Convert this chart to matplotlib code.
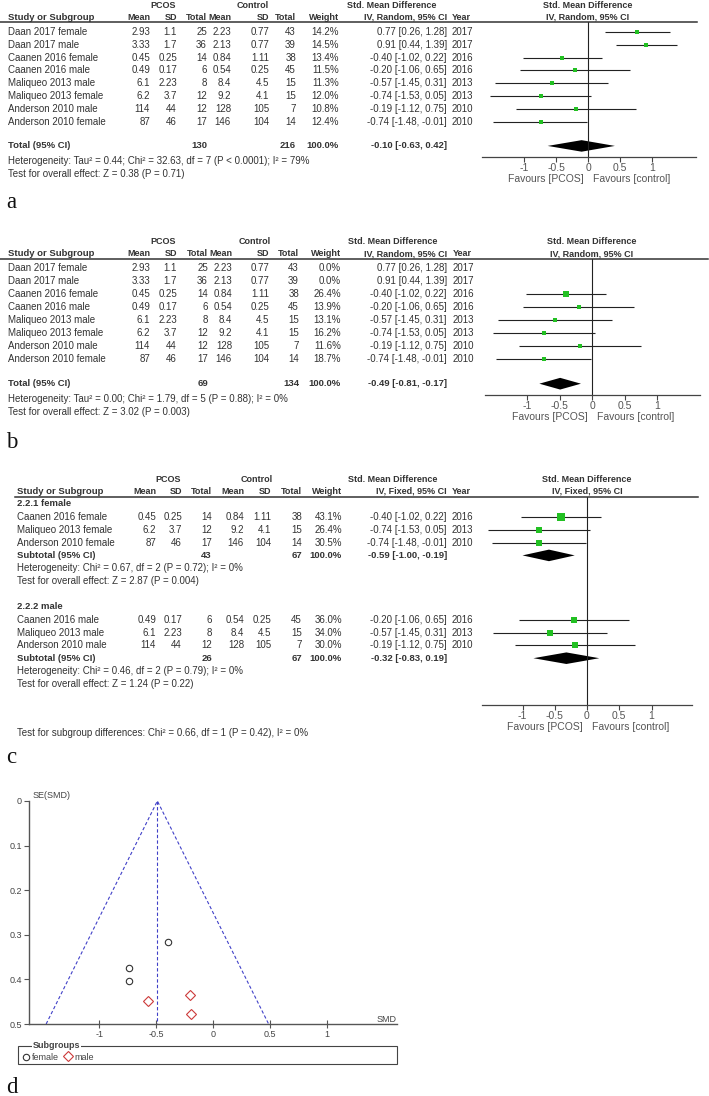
import numpy as np
import matplotlib.pyplot as plt
from matplotlib.lines import Line2D
from matplotlib.patches import Rectangle

plt.rcParams['font.family'] = ['Liberation Sans', 'DejaVu Sans']
plt.rcParams['axes.unicode_minus'] = False

# study level data
study = ['Daan 2017 female', 'Daan 2017 male', 'Caanen 2016 female', 'Caanen 2016 male',
         'Maliqueo 2013 male', 'Maliqueo 2013 female', 'Anderson 2010 male', 'Anderson 2010 female']
pcos_mean = [2.93, 3.33, 0.45, 0.49, 6.1, 6.2, 114, 87]
pcos_sd = [1.1, 1.7, 0.25, 0.17, 2.23, 3.7, 44, 46]
pcos_n = [25, 36, 14, 6, 8, 12, 12, 17]
ctrl_mean = [2.23, 2.13, 0.84, 0.54, 8.4, 9.2, 128, 146]
ctrl_sd = [0.77, 0.77, 1.11, 0.25, 4.5, 4.1, 105, 104]
ctrl_n = [43, 39, 38, 45, 15, 15, 7, 14]
smd = [0.77, 0.91, -0.40, -0.20, -0.57, -0.74, -0.19, -0.74]
ci_lo = [0.26, 0.44, -1.02, -1.06, -1.45, -1.53, -1.12, -1.48]
ci_hi = [1.28, 1.39, 0.22, 0.65, 0.31, 0.05, 0.75, -0.01]
year = [2017, 2017, 2016, 2016, 2013, 2013, 2010, 2010]

weight_a = [14.2, 14.5, 13.4, 11.5, 11.3, 12.0, 10.8, 12.4]
total_a = [130, 216, -0.10, -0.63, 0.42]
weight_b = [0.0, 0.0, 26.4, 13.9, 13.1, 16.2, 11.6, 18.7]
total_b = [69, 134, -0.49, -0.81, -0.17]

female_idx = [2, 5, 7]
male_idx = [3, 4, 6]
weight_cf = [43.1, 26.4, 30.5]
weight_cm = [36.0, 34.0, 30.0]
sub_f = [43, 67, -0.59, -1.00, -0.19]
sub_m = [26, 67, -0.32, -0.83, 0.19]

# funnel plot
funnel_pooled = -0.49
funnel_se_max = 0.5
female_smd = [-0.40, -0.74, -0.74]
female_se = [0.316, 0.403, 0.375]
male_smd = [-0.20, -0.57, -0.19]
male_se = [0.436, 0.449, 0.477]

W, H = 709, 1096
TC = '#333333'
GREEN = '#22c022'
HS = 6.5  # header font size
BS = 6.8  # bold row font size
fig = plt.figure(figsize=(W / 100, H / 100), dpi=100)


def fx(x):
    return x / W


def fy(y):
    return 1 - y / H


def txt(x, y, s, ha='left', bold=False, size=7, color=TC):
    fig.text(fx(x), fy(y), s, ha=ha, va='center', fontsize=size,
             fontweight='bold' if bold else 'normal', color=color)


def hline(x0, x1, y, lw=1.1, color='#333333'):
    fig.add_artist(Line2D([fx(x0), fx(x1)], [fy(y), fy(y)], transform=fig.transFigure,
                          lw=lw, color=color))


def fmt_ci(e, lo, hi):
    return f'{e:.2f} [{lo:.2f}, {hi:.2f}]'


def header(c, y_top, y_hdr, method, line_x0, line_x1, line_y, zero_px):
    txt(c['pcos'], y_top, 'PCOS', ha='center', bold=True, size=HS)
    txt(c['ctrl'], y_top, 'Control', ha='center', bold=True, size=HS)
    txt(c['smdh'], y_top, 'Std. Mean Difference', ha='center', bold=True, size=HS)
    txt(zero_px, y_top, 'Std. Mean Difference', ha='center', bold=True, size=HS)
    txt(c['name'], y_hdr, 'Study or Subgroup', bold=True, size=BS)
    for key, lab in [('m1', 'Mean'), ('s1', 'SD'), ('t1', 'Total'), ('m2', 'Mean'),
                     ('s2', 'SD'), ('t2', 'Total'), ('w', 'Weight')]:
        txt(c[key], y_hdr, lab, ha='right', bold=True, size=HS)
    txt(c['ci'], y_hdr, 'IV, %s, 95%% CI' % method, ha='right', bold=True, size=HS)
    txt(c['yr'], y_hdr, 'Year', bold=True, size=HS)
    txt(zero_px, y_hdr, 'IV, %s, 95%% CI' % method, ha='center', bold=True, size=HS)
    hline(line_x0, line_x1, line_y)


def study_row(c, y, i, w):
    txt(c['name'], y, study[i])
    txt(c['m1'], y, f'{pcos_mean[i]:g}', ha='right')
    txt(c['s1'], y, f'{pcos_sd[i]:g}', ha='right')
    txt(c['t1'], y, str(pcos_n[i]), ha='right')
    txt(c['m2'], y, f'{ctrl_mean[i]:g}', ha='right')
    txt(c['s2'], y, f'{ctrl_sd[i]:g}', ha='right')
    txt(c['t2'], y, str(ctrl_n[i]), ha='right')
    txt(c['w'], y, f'{w:.1f}%', ha='right')
    txt(c['ci'], y, fmt_ci(smd[i], ci_lo[i], ci_hi[i]), ha='right')
    txt(c['yr'], y, str(year[i]))


def total_row(c, y, label, tot):
    txt(c['name'], y, label, bold=True, size=BS)
    txt(c['t1'], y, str(tot[0]), ha='right', bold=True, size=BS)
    txt(c['t2'], y, str(tot[1]), ha='right', bold=True, size=BS)
    txt(c['w'], y, '100.0%', ha='right', bold=True, size=BS)
    txt(c['ci'], y, fmt_ci(*tot[2:]), ha='right', bold=True, size=BS)


def forest_axes(x0, x1, zero_px, unit_px, top_px, bot_px, row0_px, step):
    ax = fig.add_axes([fx(x0), fy(bot_px), (x1 - x0) / W, (bot_px - top_px) / H])
    ax.set_xlim((x0 - zero_px) / unit_px, (x1 - zero_px) / unit_px)
    ax.set_ylim((bot_px - row0_px) / step, (top_px - row0_px) / step)
    ax.patch.set_alpha(0)
    for s in ['top', 'left', 'right']:
        ax.spines[s].set_visible(False)
    ax.spines['bottom'].set_color('#444444')
    ax.spines['bottom'].set_linewidth(0.9)
    ax.set_xticks([-1, -0.5, 0, 0.5, 1])
    ax.set_xticklabels(['-1', '-0.5', '0', '0.5', '1'])
    ax.tick_params(axis='x', direction='out', length=3.6, width=0.8, pad=1.0,
                   labelsize=7.5, colors='#444444', labelcolor='#555555')
    ax.set_yticks([])
    ax.axvline(0, color='#222222', lw=0.8)
    for lab, dx, ha in [('Favours [PCOS]', -4, 'right'), ('Favours [control]', 5, 'left')]:
        ax.annotate(lab, xy=(0, 0), xycoords=('data', 'axes fraction'), xytext=(dx, -22),
                    textcoords='offset pixels', ha=ha, va='center', fontsize=7.5, color='#555555')
    return ax


def draw_study(ax, row, i, w):
    if w <= 0:
        return
    ax.hlines(row, ci_lo[i], ci_hi[i], color='#222222', lw=0.8)
    ax.plot(smd[i], row, marker='s', ms=0.77 * np.sqrt(w), color=GREEN, mec=GREEN, mew=0)


def draw_diamond(ax, row, tot):
    est, lo, hi = tot[2:]
    ax.fill([lo, est, hi, est], [row, row - 0.45, row, row + 0.45], color='black', lw=0)


# ---------- panel a ----------
ca = dict(name=8, m1=150, s1=177, t1=207, m2=231, s2=269, t2=296, w=339, ci=447, yr=452,
          pcos=163, ctrl=253, smdh=392)
step_a, r0_a = 12.8, 32
header(ca, 5, 17, 'Random', 0, 697, 22, 588)
ax_a = forest_axes(482, 696, 588, 64, 22, 157, r0_a, step_a)
for i in range(8):
    study_row(ca, r0_a + i * step_a, i, weight_a[i])
    draw_study(ax_a, i, i, weight_a[i])
total_row(ca, r0_a + 8.9 * step_a, 'Total (95% CI)', total_a)
draw_diamond(ax_a, 8.9, total_a)
txt(8, r0_a + 10.1 * step_a, 'Heterogeneity: Tau\u00b2 = 0.44; Chi\u00b2 = 32.63, df = 7 (P < 0.0001); I\u00b2 = 79%')
txt(8, r0_a + 11.1 * step_a, 'Test for overall effect: Z = 0.38 (P = 0.71)')

# ---------- panel b ----------
cb = dict(name=8, m1=150, s1=177, t1=208, m2=232, s2=269, t2=299, w=341, ci=447, yr=453,
          pcos=163, ctrl=255, smdh=393)
step_b, r0_b = 13.0, 268
header(cb, 242, 254, 'Random', 0, 708, 259, 592)
ax_b = forest_axes(485, 700, 592, 65, 259, 395, r0_b, step_b)
for i in range(8):
    study_row(cb, r0_b + i * step_b, i, weight_b[i])
    draw_study(ax_b, i, i, weight_b[i])
total_row(cb, r0_b + 8.9 * step_b, 'Total (95% CI)', total_b)
draw_diamond(ax_b, 8.9, total_b)
txt(8, r0_b + 10.1 * step_b, 'Heterogeneity: Tau\u00b2 = 0.00; Chi\u00b2 = 1.79, df = 5 (P = 0.88); I\u00b2 = 0%')
txt(8, r0_b + 11.1 * step_b, 'Test for overall effect: Z = 3.02 (P = 0.003)')

# ---------- panel c ----------
cc = dict(name=17, m1=156, s1=182, t1=212, m2=244, s2=271, t2=302, w=342, ci=447, yr=452,
          pcos=168, ctrl=257, smdh=393)
step_c, r0_c = 12.85, 504
header(cc, 479, 491, 'Fixed', 15, 698, 497, 587)
ax_c = forest_axes(482, 692, 587, 64.5, 497, 705, r0_c, step_c)
groups = [('2.2.1 female', female_idx, weight_cf, sub_f, 0,
           'Heterogeneity: Chi\u00b2 = 0.67, df = 2 (P = 0.72); I\u00b2 = 0%',
           'Test for overall effect: Z = 2.87 (P = 0.004)'),
          ('2.2.2 male', male_idx, weight_cm, sub_m, 8,
           'Heterogeneity: Chi\u00b2 = 0.46, df = 2 (P = 0.79); I\u00b2 = 0%',
           'Test for overall effect: Z = 1.24 (P = 0.22)')]
for title, idx, wts, sub, start, het, test in groups:
    txt(cc['name'], r0_c + start * step_c, title, bold=True, size=BS)
    for k, (i, w) in enumerate(zip(idx, wts)):
        row = start + 1 + k
        study_row(cc, r0_c + row * step_c, i, w)
        draw_study(ax_c, row, i, w)
    total_row(cc, r0_c + (start + 4) * step_c, 'Subtotal (95% CI)', sub)
    draw_diamond(ax_c, start + 4, sub)
    txt(cc['name'], r0_c + (start + 5) * step_c, het)
    txt(cc['name'], r0_c + (start + 6) * step_c, test)
txt(cc['name'], 733, 'Test for subgroup differences: Chi\u00b2 = 0.66, df = 1 (P = 0.42), I\u00b2 = 0%')

# ---------- panel d ----------
ax_d = fig.add_axes([fx(29), fy(1024), (397 - 29) / W, (1024 - 801) / H])
ax_d.set_xlim(-1.621, 1.621)
ax_d.set_ylim(0.5, 0)
for s in ['top', 'right']:
    ax_d.spines[s].set_visible(False)
for s in ['left', 'bottom']:
    ax_d.spines[s].set_color('#555555')
    ax_d.spines[s].set_linewidth(1.0)
ax_d.set_xticks([-1, -0.5, 0, 0.5, 1])
ax_d.set_xticklabels(['-1', '-0.5', '0', '0.5', '1'])
ax_d.set_yticks([0, 0.1, 0.2, 0.3, 0.4, 0.5])
ax_d.set_yticklabels(['0', '0.1', '0.2', '0.3', '0.4', '0.5'])
ax_d.tick_params(axis='x', direction='inout', length=6, width=0.8, pad=1.5, labelsize=6.5,
                 colors='#555555', labelcolor='#444444')
ax_d.tick_params(axis='y', direction='out', length=3.5, width=0.8, pad=1.5, labelsize=6.5,
                 colors='#555555', labelcolor='#444444')
z = 1.96
ax_d.plot([funnel_pooled - z * funnel_se_max, funnel_pooled, funnel_pooled + z * funnel_se_max],
          [funnel_se_max, 0, funnel_se_max], ls='--', color='#4040c8', lw=0.8, dashes=(3, 2))
ax_d.plot([funnel_pooled, funnel_pooled], [0, funnel_se_max], ls='--', color='#4040c8', lw=0.8,
          dashes=(3, 2))
ax_d.plot(female_smd, female_se, 'o', mfc='none', mec='#333333', ms=4.6, mew=0.8, clip_on=False)
ax_d.plot(male_smd, male_se, 'D', mfc='none', mec='#cc3a3a', ms=5.2, mew=0.8, clip_on=False)
txt(33, 795, 'SE(SMD)', size=6.5, color='#444444')
txt(397, 1019, 'SMD', ha='right', size=6.5, color='#444444')

# legend box
fig.add_artist(Rectangle((fx(18), fy(1064)), (397 - 18) / W, 18 / H, transform=fig.transFigure,
                         fill=False, ec='#444444', lw=0.8))
fig.text(fx(33), fy(1046), 'Subgroups', ha='left', va='center', fontsize=6.5, fontweight='bold',
         color='#444444', bbox=dict(fc='white', ec='none', pad=0.6))
fig.add_artist(Line2D([fx(26)], [fy(1057)], marker='o', mfc='none', mec='#333333', ms=4.6,
                      mew=0.8, transform=fig.transFigure))
fig.add_artist(Line2D([fx(68)], [fy(1056)], marker='D', mfc='none', mec='#cc3a3a', ms=5.2,
                      mew=0.8, transform=fig.transFigure))
txt(32, 1058, 'female', size=6.5, color='#444444')
txt(74, 1058, 'male', size=6.5, color='#444444')

# panel letters
for lab, yb in [('a', 208), ('b', 448), ('c', 763), ('d', 1093)]:
    fig.text(fx(6), fy(yb), lab, ha='left', va='baseline', fontsize=16.5,
             family=['Liberation Serif', 'DejaVu Serif'], color='#111111')

fig.savefig('out.png', dpi=100)
